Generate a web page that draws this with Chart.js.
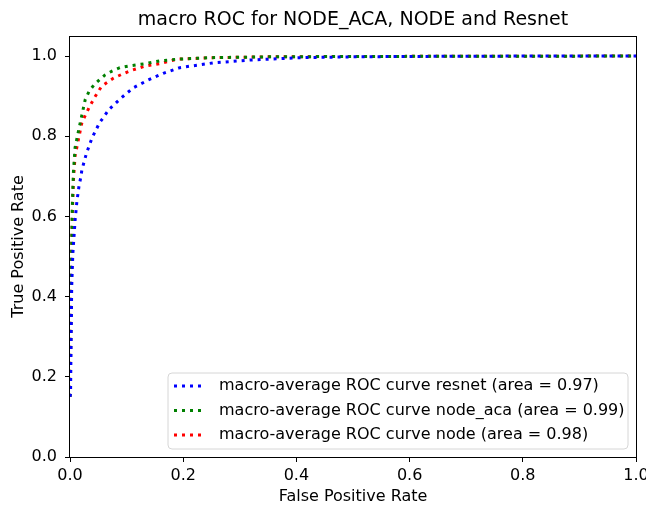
<!DOCTYPE html>
<html>
    <head>
        <meta http-equiv="Content-Type" content="text/html; charset=UTF-8">
        <title>macro ROC</title>
        <script src="https://cdn.jsdelivr.net/npm/chart.js@4.4.1/dist/chart.umd.min.js"></script>
        <style type="text/css">
            body { margin: 0; background: #fff; }
            #roc { display: block; }
        </style>
    </head>
    <body>
        <canvas id="roc" width="646" height="506"></canvas>

        <script>
            // values (false positive rate / true positive rate)
            var fprResnet = [0, 0.001, 0.002, 0.003, 0.005, 0.009, 0.012, 0.016, 0.019, 0.021, 0.029, 0.039, 0.052, 0.069, 0.090, 0.112, 0.138, 0.165, 0.194, 0.253, 0.318, 0.406, 0.5, 0.6, 0.8, 1.0];
            var tprResnet = [0.15, 0.16, 0.30, 0.424, 0.507, 0.59, 0.635, 0.677, 0.697, 0.716, 0.757, 0.796, 0.833, 0.867, 0.895, 0.921, 0.940, 0.957, 0.971, 0.983, 0.990, 0.996, 0.998, 0.999, 1.0, 1.0];

            var fprNodeAca = [0, 0.001, 0.002, 0.003, 0.004, 0.006, 0.009, 0.015, 0.021, 0.027, 0.034, 0.043, 0.053, 0.062, 0.075, 0.088, 0.103, 0.133, 0.159, 0.188, 0.25, 0.35, 0.5, 1.0];
            var tprNodeAca = [0.15, 0.25, 0.40, 0.52, 0.62, 0.71, 0.772, 0.813, 0.853, 0.892, 0.913, 0.929, 0.942, 0.953, 0.963, 0.971, 0.975, 0.981, 0.988, 0.992, 0.996, 0.998, 0.999, 1.0];

            var fprNode = [0, 0.001, 0.002, 0.003, 0.004, 0.006, 0.009, 0.015, 0.021, 0.028, 0.035, 0.044, 0.056, 0.077, 0.091, 0.106, 0.133, 0.159, 0.188, 0.25, 0.35, 0.5, 1.0];
            var tprNode = [0.15, 0.25, 0.40, 0.52, 0.60, 0.689, 0.751, 0.793, 0.834, 0.855, 0.875, 0.898, 0.925, 0.945, 0.954, 0.963, 0.975, 0.981, 0.992, 0.996, 0.998, 0.999, 1.0];

            var seriesLabels = [
                'macro-average ROC curve resnet (area = 0.97)',
                'macro-average ROC curve node_aca (area = 0.99)',
                'macro-average ROC curve node (area = 0.98)'
            ];
            var seriesColors = ['#0000ff', '#008000', '#ff0000'];
            var tickValues = [0, 0.2, 0.4, 0.6, 0.8, 1.0];
            var chartTitle = 'macro ROC for NODE_ACA, NODE and Resnet';

            //turn two arrays into {x,y} points
            function toPoints(xs, ys){
                var pts = [];
                for(i=0;i<xs.length;i++){
                    pts.push({x: xs[i], y: ys[i]});
                }
                return pts;
            }

            var dotDash = [3, 5];
            var font = 'DejaVu Sans';
            var textSize = 16;

            //title centred over the plot, box round the plot and legend in the lower right corner
            var frameAndLegend = {
                id: 'frameAndLegend',
                afterDatasetsDraw: function(chart){
                    var ctx = chart.ctx;
                    var a = chart.chartArea;
                    ctx.save();
                    ctx.strokeStyle = '#000';
                    ctx.lineWidth = 1;
                    ctx.strokeRect(Math.round(a.left) - 0.5, Math.round(a.top) + 0.5, Math.round(a.right - a.left) + 1, Math.round(a.bottom - a.top));

                    ctx.fillStyle = '#000';
                    ctx.font = '19px "' + font + '"';
                    ctx.textAlign = 'center';
                    ctx.textBaseline = 'middle';
                    ctx.fillText(chartTitle, (a.left + a.right) / 2, 20);

                    var bx = 168, by = 373, bw = 460, bh = 76, r = 4;
                    ctx.beginPath();
                    ctx.moveTo(bx + r, by);
                    ctx.arcTo(bx + bw, by, bx + bw, by + bh, r);
                    ctx.arcTo(bx + bw, by + bh, bx, by + bh, r);
                    ctx.arcTo(bx, by + bh, bx, by, r);
                    ctx.arcTo(bx, by, bx + bw, by, r);
                    ctx.closePath();
                    ctx.fillStyle = 'rgba(255,255,255,0.8)';
                    ctx.fill();
                    ctx.strokeStyle = '#d6d6d6';
                    ctx.stroke();

                    ctx.font = textSize + 'px "' + font + '"';
                    ctx.textAlign = 'left';
                    chart.data.datasets.forEach(function(ds, k){
                        var y = by + 13 + k * 24.5;
                        ctx.beginPath();
                        ctx.setLineDash(dotDash);
                        ctx.lineWidth = 3;
                        ctx.strokeStyle = ds.borderColor;
                        ctx.moveTo(174, y);
                        ctx.lineTo(205, y);
                        ctx.stroke();
                        ctx.setLineDash([]);
                        ctx.fillStyle = '#000';
                        ctx.fillText(ds.label, 219, y);
                    });
                    ctx.restore();
                }
            };

            var datasets = [
                toPoints(fprResnet, tprResnet),
                toPoints(fprNodeAca, tprNodeAca),
                toPoints(fprNode, tprNode)
            ].map(function(pts, k){
                return {
                    label: seriesLabels[k],
                    data: pts,
                    borderColor: seriesColors[k],
                    backgroundColor: seriesColors[k],
                    borderWidth: 3,
                    borderDash: dotDash,
                    pointRadius: 0,
                    tension: 0,
                    fill: false
                };
            });

            var axisTicks = {
                color: '#000',
                font: {family: font, size: textSize},
                autoSkip: false,
                maxRotation: 0,
                callback: function(v){ return v.toFixed(1); }
            };

            var rocChart = new Chart(document.getElementById('roc').getContext('2d'), {
                type: 'line',
                data: {datasets: datasets},
                plugins: [frameAndLegend],
                options: {
                    responsive: false,
                    animation: false,
                    layout: {padding: {top: 36, right: 10, bottom: 0, left: 0}},
                    plugins: {
                        legend: {display: false},
                        tooltip: {enabled: false},
                        title: {display: false}
                    },
                    scales: {
                        x: {
                            type: 'linear',
                            min: 0,
                            max: 1,
                            afterBuildTicks: function(s){ s.ticks = tickValues.map(function(v){ return {value: v}; }); },
                            afterFit: function(s){ s.height = 49; s.paddingLeft = 0; s.paddingRight = 0; },
                            grid: {display: true, drawOnChartArea: false, drawTicks: true, tickLength: 5, tickColor: '#000'},
                            border: {display: false},
                            ticks: Object.assign({padding: 4}, axisTicks),
                            title: {display: true, text: 'False Positive Rate', color: '#000', font: {family: font, size: textSize}, padding: {top: 0, bottom: 0}}
                        },
                        y: {
                            type: 'linear',
                            min: 0,
                            max: 1.05,
                            afterBuildTicks: function(s){ s.ticks = tickValues.map(function(v){ return {value: v}; }); },
                            afterFit: function(s){ s.width = 70; s.paddingTop = 0; s.paddingBottom = 0; },
                            grid: {display: true, drawOnChartArea: false, drawTicks: true, tickLength: 5, tickColor: '#000'},
                            border: {display: false},
                            ticks: Object.assign({padding: 8}, axisTicks),
                            title: {display: true, text: 'True Positive Rate', color: '#000', font: {family: font, size: textSize}, padding: {top: 9, bottom: 0}}
                        }
                    }
                }
            });
        </script>
    </body>
</html>
